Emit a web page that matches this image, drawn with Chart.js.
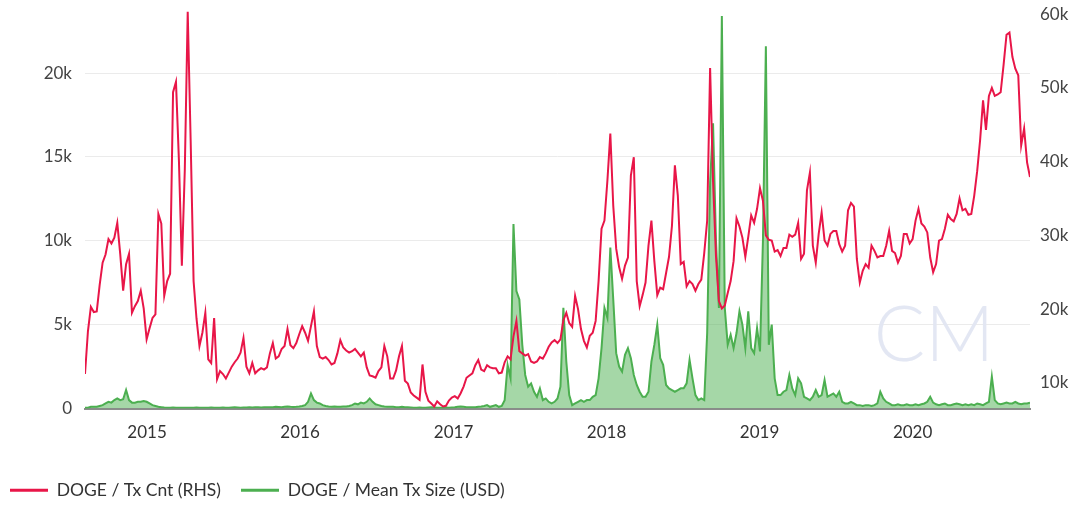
<!DOCTYPE html>
<html>
<head>
<meta charset="utf-8">
<script src="https://cdn.jsdelivr.net/npm/chart.js@4.4.0/dist/chart.umd.min.js"></script>
<style>
  html, body { margin: 0; padding: 0; background: #fff; }
  #wrap { width: 1084px; height: 509px; }
</style>
</head>
<body>
<div id="wrap"><canvas id="myChart" width="1084" height="509"></canvas></div>
<script>
// weekly samples, first week starts 2014-08-06
const startDate = Date.UTC(2014, 7, 6);
const weekMs = 7 * 24 * 3600 * 1000;
const years = [2015, 2016, 2017, 2018, 2019, 2020];
const leftTicks = [0, 5, 10, 15, 20];
const rightTicks = [10, 20, 30, 40, 50, 60];

// DOGE / Tx Cnt, thousands (right axis)
const txCnt = [
  11.2, 17.0, 20.3, 19.6, 19.7, 23.3, 26.3, 27.4, 29.5, 28.9,
  29.7, 31.7, 27.5, 22.5, 26.1, 27.5, 19.5, 20.4, 21.1, 22.5,
  20.1, 15.9, 17.4, 18.8, 19.3, 32.9, 31.6, 21.8, 23.8, 24.8,
  49.4, 50.8, 40.2, 25.9, 38.8, 60.3, 42.9, 23.8, 18.7, 15.0,
  16.8, 19.5, 13.2, 12.7, 18.8, 10.5, 11.6, 11.2, 10.6, 11.4,
  12.2, 12.8, 13.3, 14.1, 16.1, 12.2, 11.3, 12.7, 11.3, 11.7,
  12.0, 11.8, 12.1, 14.0, 15.4, 13.3, 13.6, 14.6, 15.0, 17.3,
  15.1, 14.7, 15.4, 16.6, 17.7, 16.8, 15.7, 17.7, 19.7, 15.0,
  13.5, 13.3, 13.5, 13.1, 12.5, 12.7, 14.0, 15.8, 14.8, 14.4,
  14.1, 14.3, 14.6, 14.1, 13.6, 14.1, 12.1, 11.0, 10.9, 10.7,
  11.6, 12.1, 15.0, 13.6, 10.6, 10.6, 11.7, 13.6, 15.0, 10.3,
  9.9, 8.7, 8.3, 8.0, 7.7, 12.5, 8.8, 7.6, 7.2, 6.8,
  7.5, 7.1, 6.8, 6.9, 7.6, 8.0, 8.2, 7.9, 8.6, 9.5,
  10.7, 11.0, 11.3, 12.4, 13.1, 11.8, 11.6, 12.4, 12.1, 12.0,
  12.0, 11.3, 11.4, 12.8, 13.6, 13.2, 16.3, 18.4, 14.3, 14.0,
  13.7, 13.9, 12.9, 12.7, 12.9, 13.5, 13.3, 14.0, 14.9, 15.5,
  15.8, 15.4, 15.9, 18.5, 19.5, 18.1, 17.6, 21.8, 20.0, 17.3,
  15.7, 14.8, 16.4, 16.8, 18.4, 23.8, 30.9, 32.0, 37.4, 43.8,
  34.0, 28.2, 25.7, 24.1, 25.9, 27.0, 38.1, 40.6, 23.8, 20.4,
  21.9, 23.6, 28.6, 32.0, 26.5, 21.9, 22.9, 22.7, 24.9, 27.1,
  31.3, 39.5, 35.4, 26.1, 26.4, 23.1, 23.8, 23.4, 22.5, 23.4,
  24.0, 27.6, 32.0, 52.7, 37.4, 27.2, 21.1, 20.1, 20.5, 22.2,
  23.8, 26.5, 32.3, 31.2, 29.7, 27.1, 29.8, 32.7, 31.7, 33.6,
  36.4, 34.7, 30.0, 29.4, 29.3, 27.8, 28.0, 27.2, 28.3, 28.3,
  30.1, 29.8, 30.1, 31.7, 26.8, 27.5, 36.1, 38.5, 28.6, 26.3,
  30.2, 33.1, 29.3, 28.6, 30.2, 30.6, 30.6, 28.8, 27.8, 28.6,
  33.4, 34.4, 33.9, 26.8, 23.6, 25.2, 26.1, 25.6, 28.6, 27.9,
  27.0, 27.2, 27.2, 28.6, 30.6, 27.9, 27.6, 26.3, 27.2, 30.2,
  30.2, 28.9, 29.5, 32.0, 33.6, 31.6, 31.2, 30.4, 27.0, 25.0,
  26.1, 29.3, 29.5, 30.9, 32.8, 32.2, 31.9, 32.9, 35.0, 33.4,
  33.6, 32.8, 32.9, 35.4, 38.7, 42.9, 48.3, 44.3, 48.9, 50.0,
  48.9, 49.1, 49.4, 53.1, 57.2, 57.5, 54.2, 52.6, 51.7, 42.2,
  44.5, 39.9, 37.9
];

// DOGE / Mean Tx Size (USD), thousands (left axis)
const meanTxSize = [
  0.05, 0.05, 0.1, 0.1, 0.1, 0.15, 0.2, 0.3, 0.4, 0.35,
  0.5, 0.6, 0.5, 0.55, 1.1, 0.5, 0.35, 0.35, 0.4, 0.4,
  0.45, 0.4, 0.3, 0.2, 0.15, 0.1, 0.08, 0.06, 0.05, 0.05,
  0.06, 0.05, 0.04, 0.05, 0.05, 0.04, 0.05, 0.05, 0.06, 0.05,
  0.05, 0.04, 0.05, 0.06, 0.05, 0.05, 0.05, 0.06, 0.05, 0.05,
  0.06, 0.07, 0.06, 0.05, 0.06, 0.06, 0.07, 0.06, 0.08, 0.07,
  0.06, 0.07, 0.08, 0.07, 0.08, 0.1, 0.09, 0.08, 0.1, 0.12,
  0.1, 0.09, 0.1, 0.12, 0.15, 0.2, 0.4, 0.9, 0.5, 0.35,
  0.3, 0.2, 0.15, 0.12, 0.1, 0.12, 0.1, 0.1, 0.12, 0.12,
  0.15, 0.2, 0.3, 0.25, 0.35, 0.3, 0.4, 0.6, 0.4, 0.25,
  0.2, 0.15, 0.12, 0.1, 0.1, 0.1, 0.08, 0.08, 0.1, 0.08,
  0.07, 0.06, 0.05, 0.05, 0.06, 0.05, 0.05, 0.06, 0.07, 0.06,
  0.05, 0.05, 0.05, 0.06, 0.05, 0.06, 0.07, 0.1, 0.12, 0.1,
  0.08, 0.08, 0.07, 0.08, 0.1, 0.12, 0.15, 0.2, 0.1, 0.15,
  0.2, 0.1, 0.15, 0.5, 2.6, 1.8, 11.0, 7.0, 6.5, 3.8,
  2.0, 1.3, 1.5, 1.0, 0.7, 1.2, 0.5, 0.6, 0.4, 0.3,
  0.4, 0.6, 1.3, 6.0, 2.8, 0.8, 0.2, 0.3, 0.4, 0.5,
  0.4, 0.5, 0.5, 0.7, 0.8, 1.8, 3.6, 6.0, 5.4, 9.6,
  6.5, 3.3, 2.5, 2.2, 3.2, 3.6, 3.0, 2.0, 1.4, 1.0,
  0.7, 0.7, 1.0, 2.8, 3.8, 5.0, 3.0, 2.6, 1.4, 1.2,
  1.1, 1.0, 1.1, 1.2, 1.2, 1.5, 2.9, 1.8, 0.8, 0.5,
  0.6, 0.5, 4.5, 13.5, 17.0, 10.0, 6.0, 23.4, 6.0, 3.8,
  4.4, 3.6, 4.5, 5.8, 5.0, 3.6, 5.8, 3.6, 3.3, 4.8,
  3.4, 10.0, 21.6, 3.8, 5.0, 1.8, 0.8, 0.8, 1.0, 1.1,
  2.0, 1.2, 0.8, 1.8, 1.5, 0.7, 0.6, 0.5, 0.7, 1.1,
  0.7, 0.8, 1.7, 0.7, 0.8, 0.9, 0.7, 1.0, 0.4, 0.3,
  0.3, 0.4, 0.3, 0.2, 0.2, 0.15, 0.2, 0.2, 0.15, 0.2,
  0.3, 1.0, 0.6, 0.4, 0.3, 0.2, 0.2, 0.25, 0.2, 0.2,
  0.25, 0.2, 0.2, 0.25, 0.2, 0.25, 0.3, 0.4, 0.7, 0.35,
  0.25, 0.2, 0.25, 0.3, 0.2, 0.2, 0.25, 0.3, 0.25, 0.2,
  0.25, 0.2, 0.25, 0.2, 0.3, 0.25, 0.2, 0.3, 0.4, 1.9,
  0.5, 0.3, 0.25, 0.3, 0.35, 0.3, 0.3, 0.4, 0.3, 0.25,
  0.3, 0.3, 0.35
];

const weeks = txCnt.map((_, i) => startDate + i * weekMs);

const kLabel = v => (v === 0 ? '0' : v + 'k');

// faint "CM" mark behind the lines
const watermark = {
  id: 'watermark',
  beforeDatasetsDraw(chart) {
    const { ctx, chartArea } = chart;
    ctx.save();
    ctx.font = '300 76px Lato';
    ctx.fillStyle = 'rgba(226,230,242,0.95)';
    ctx.textAlign = 'center';
    ctx.textBaseline = 'middle';
    ctx.fillText('CM', chartArea.right - 96, chartArea.bottom - 72);
    ctx.restore();
  }
};

const ctx = document.getElementById('myChart').getContext('2d');

const myChart = new Chart(ctx, {
  type: 'line',
  data: {
    datasets: [
      {
        label: 'DOGE / Tx Cnt (RHS)',
        data: weeks.map((w, i) => ({ x: w, y: txCnt[i] })),
        yAxisID: 'yR',
        borderColor: 'rgb(232, 22, 72)',
        backgroundColor: 'rgb(232, 22, 72)',
        borderWidth: 2,
        pointRadius: 0,
        tension: 0,
        fill: false,
      },
      {
        label: 'DOGE / Mean Tx Size (USD)',
        data: weeks.map((w, i) => ({ x: w, y: meanTxSize[i] })),
        yAxisID: 'yL',
        borderColor: 'rgb(76, 175, 80)',
        backgroundColor: 'rgba(76, 175, 80, 0.5)',
        borderWidth: 2,
        pointRadius: 0,
        tension: 0,
        fill: 'origin',
      },
    ],
  },
  options: {
    responsive: false,
    animation: false,
    devicePixelRatio: 1,
    layout: { padding: { top: 0, left: -10, right: 0, bottom: 0 } },
    plugins: {
      tooltip: { enabled: false },
      legend: {
        position: 'bottom',
        align: 'start',
        labels: {
          boxWidth: 38,
          boxHeight: 3,
          padding: 20,
          color: '#333',
          font: { family: 'Lato', size: 17.5 },
          generateLabels(chart) {
            const items = Chart.defaults.plugins.legend.labels.generateLabels(chart);
            items.forEach(it => { it.fillStyle = it.strokeStyle; it.lineWidth = 0; });
            return items;
          },
        },
      },
    },
    scales: {
      x: {
        type: 'linear',
        min: weeks[0],
        max: weeks[weeks.length - 1],
        grid: { display: false, drawTicks: false },
        border: { display: true, color: '#8c8c8c', width: 2 },
        ticks: {
          autoSkip: false,
          maxRotation: 0,
          padding: 14,
          color: '#333',
          font: { family: 'Lato', size: 17 },
          callback: v => new Date(v).getUTCFullYear(),
        },
        afterBuildTicks: s => { s.ticks = years.map(y => ({ value: Date.UTC(y, 0, 1) })); },
        afterFit: s => { s.height = 53; },
      },
      yL: {
        position: 'left',
        min: 0,
        max: 23.9,
        grid: { color: '#ebebeb', drawTicks: true, tickLength: 13, tickColor: 'rgba(0,0,0,0)' },
        border: { display: false },
        ticks: {
          padding: 0,
          color: '#444',
          font: { family: 'Lato', size: 17, lineHeight: 0.9 },
          callback: kLabel,
        },
        afterBuildTicks: s => { s.ticks = leftTicks.map(v => ({ value: v })); },
        afterFit: s => { s.width = 95; },
      },
      yR: {
        position: 'right',
        min: 6.53,
        max: 60.87,
        grid: { color: 'rgba(0,0,0,0)', drawTicks: true, tickLength: 10, tickColor: 'rgba(0,0,0,0)' },
        border: { display: false },
        ticks: {
          padding: 0,
          color: '#444',
          font: { family: 'Lato', size: 17, lineHeight: 0.9 },
          callback: kLabel,
        },
        afterBuildTicks: s => { s.ticks = rightTicks.map(v => ({ value: v })); },
        afterFit: s => { s.width = 54; },
      },
    },
  },
  plugins: [watermark],
});
</script>
</body>
</html>
